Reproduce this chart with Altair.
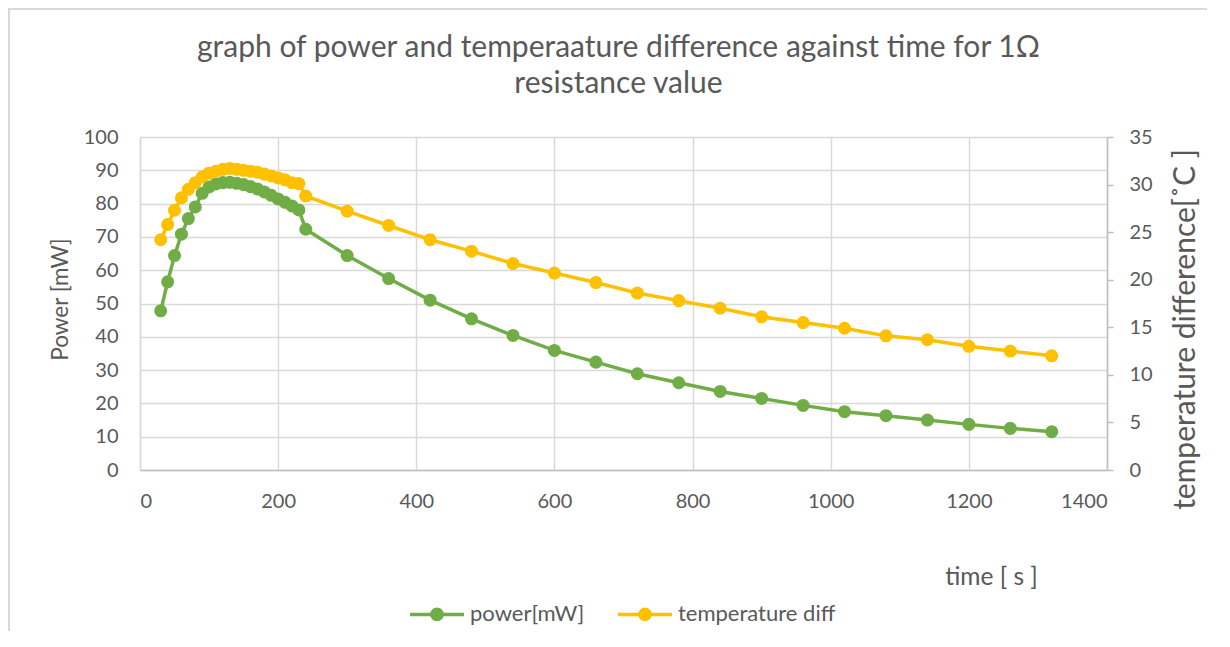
import altair as alt
import pandas as pd

# ---- data ----
time_s = [30, 40, 50, 60, 70, 80, 90, 100, 110, 120, 130, 140, 150, 160, 170, 180, 190, 200,
          210, 220, 230, 240, 300, 360, 420, 480, 540, 600, 660, 720, 780, 840, 900, 960,
          1020, 1080, 1140, 1200, 1260, 1320]
power_mw = [47.8, 56.5, 64.4, 70.8, 75.5, 79.0, 83.1, 85.0, 85.9, 86.3, 86.4, 86.1, 85.7, 85.1,
            84.4, 83.5, 82.5, 81.4, 80.4, 79.3, 78.1, 72.3, 64.4, 57.5, 51.0, 45.4, 40.4, 35.9,
            32.4, 28.9, 26.2, 23.6, 21.5, 19.4, 17.5, 16.3, 15.0, 13.7, 12.5, 11.5]
temp_diff = [24.2, 25.8, 27.3, 28.6, 29.5, 30.2, 30.8, 31.2, 31.4, 31.6, 31.7, 31.6, 31.5, 31.4,
             31.3, 31.1, 30.9, 30.7, 30.5, 30.2, 30.1, 28.8, 27.2, 25.7, 24.2, 23.0, 21.7, 20.7,
             19.7, 18.6, 17.8, 17.0, 16.1, 15.5, 14.9, 14.1, 13.7, 13.0, 12.5, 12.0]
series_names = ["power[mW]", "temperature diff"]
series_colors = ["#70AD47", "#FFC000"]
x_ticks = [0, 200, 400, 600, 800, 1000, 1200, 1400]
left_ticks = [0, 10, 20, 30, 40, 50, 60, 70, 80, 90, 100]
right_ticks = [0, 5, 10, 15, 20, 25, 30, 35]
title_lines = ["graph of power and temperaature difference against time for 1Ω", "resistance value"]

FONT = "Lato"
TXT = "#595959"
GRID = "#d9d9d9"
AX = "#bfbfbf"

dfp = pd.DataFrame({"time": time_s, "val": power_mw, "series": series_names[0]})
dft = pd.DataFrame({"time": time_s, "val": temp_diff, "series": series_names[1]})

# legend symbol: line with a filled dot (concentric rings fill the dot)
rings = ""
for r in [0.03, 0.08, 0.13, 0.19]:
    rings += f"M{-r},0A{r},{r} 0 1,0 {r},0A{r},{r} 0 1,0 {-r},0"
legend_path = "M-1,0L1,0" + rings

xenc = alt.X("time:Q", scale=alt.Scale(domain=[0, 1400], nice=False),
             axis=alt.Axis(values=x_ticks, format="d", grid=True, gridColor=GRID, gridWidth=1.5,
                           domainColor=AX, domainWidth=1.5, ticks=False, labelPadding=21,
                           labelFontSize=20, labelColor=TXT, labelFont=FONT,
                           title="time [ s ]", titleFont=FONT, titleFontSize=24.5,
                           titleFontWeight="normal", titleColor=TXT,
                           titleX=851, titleY=107, titleAlign="center", titleBaseline="middle"))

colenc = alt.Color("series:N", scale=alt.Scale(domain=series_names, range=series_colors),
                   legend=alt.Legend(title=None, orient="none", direction="horizontal",
                                     legendX=268, legendY=448, symbolType=legend_path,
                                     symbolSize=2916, symbolStrokeWidth=3.5,
                                     labelFont=FONT, labelFontSize=22, labelColor=TXT,
                                     labelOffset=4, columnPadding=26, padding=0))

left_axis = alt.Axis(values=left_ticks, grid=True, gridColor=GRID, gridWidth=1.5,
                     domainColor=GRID, domainWidth=1.5, ticks=False, labelPadding=22,
                     labelFontSize=20, labelColor=TXT, labelFont=FONT,
                     title="Power [mW]", titleFont=FONT, titleFontSize=22.5,
                     titleFontWeight="normal", titleColor=TXT, titleAngle=270,
                     titleX=-80, titleY=162, titleAlign="center", titleBaseline="middle")
right_axis = alt.Axis(orient="right", values=right_ticks, grid=False,
                      domainColor=AX, domainWidth=1.5, ticks=True, tickColor=AX, tickWidth=1.5,
                      tickSize=6, labelPadding=16,
                      labelFontSize=20, labelColor=TXT, labelFont=FONT,
                      title="temperature difference[˚C ]", titleFont=FONT, titleFontSize=30,
                      titleFontWeight="normal", titleColor=TXT, titleAngle=270,
                      titleX=78, titleY=192, titleAlign="center", titleBaseline="middle")

pbase = alt.Chart(dfp).encode(
    x=xenc,
    y=alt.Y("val:Q", scale=alt.Scale(domain=[0, 100], nice=False), axis=left_axis),
    color=colenc)
power = alt.layer(pbase.mark_line(strokeWidth=3.5),
                  pbase.mark_point(filled=True, size=170, opacity=1))

tbase = alt.Chart(dft).encode(
    x=xenc,
    y=alt.Y("val:Q", scale=alt.Scale(domain=[0, 35], nice=False), axis=right_axis),
    color=colenc)
temp = alt.layer(tbase.mark_line(strokeWidth=3.5),
                 tbase.mark_point(filled=True, size=170, opacity=1))

frame_df = pd.DataFrame({"k": [0]})
frame_left = alt.Chart(frame_df).mark_rule(color=GRID, strokeWidth=2).encode(
    x=alt.value(-131), y=alt.value(-129), y2=alt.value(494))
frame_top = alt.Chart(frame_df).mark_rule(color=GRID, strokeWidth=2).encode(
    x=alt.value(-132), x2=alt.value(1080), y=alt.value(-128))

chart = alt.layer(frame_left, frame_top, power, temp).resolve_scale(
    y="independent"
).properties(
    width=967, height=333,
    title=alt.TitleParams(text=title_lines, font=FONT, fontSize=30, fontWeight="normal",
                          color=TXT, anchor="middle", offset=0, dx=-5, dy=92, lineHeight=36),
    autosize=alt.AutoSizeParams(type="none"),
    padding={"left": 132, "top": 129, "right": 100, "bottom": 165},
).configure_view(stroke=None)

chart.save("out.html", embed_options={"renderer": "svg", "actions": False})
